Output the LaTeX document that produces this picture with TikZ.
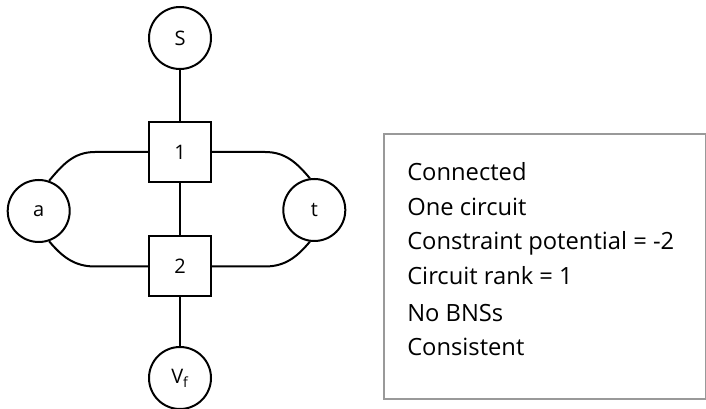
\documentclass[tikz,border=0pt]{standalone}
\usepackage{fontspec}
\setmainfont{Open Sans}
\begin{document}
\begin{tikzpicture}[x=0.75pt,y=-0.75pt,
  every node/.style={font=\fontsize{15}{18}\selectfont},
  vtx/.style={circle,draw,line width=1.5pt,minimum size=46.5pt,inner sep=0pt},
  fac/.style={rectangle,draw,line width=1.5pt,minimum width=46.5pt,minimum height=45pt,inner sep=0pt},
  edge/.style={line width=1.5pt},
  info/.style={anchor=base west,inner sep=0pt,font=\fontsize{17.8}{21}\selectfont}]
\useasboundingbox (0,0) rectangle (706,409);
\node[vtx] (s) at (180,38) {S};
\node[fac] (b1) at (180,152) {1};
\node[fac] (b2) at (180,266.5) {2};
\node[vtx] (a) at (38.7,211) {a};
\node[vtx] (t) at (314.3,210) {t};
\node[vtx] (vf) at (180,378) {V\textsubscript{f}};
\draw[edge] (s) -- (b1);
\draw[edge] (b1) -- (b2);
\draw[edge] (b2) -- (vf);
\draw[edge] (b1.west) -- ++(-53,0) to[out=180,in=50] (a.71);
\draw[edge] (b2.west) -- ++(-53,0) to[out=180,in=-50] (a.-71);
\draw[edge] (b1.east) -- ++(53,0) to[out=0,in=130] (t.98);
\draw[edge] (b2.east) -- ++(53,0) to[out=0,in=-130] (t.-98);
\node[draw=black!40,line width=1.2pt,minimum width=241.5pt,minimum height=198.75pt,anchor=north west,inner sep=0pt] (box) at (383.3,133) {};
\node[info] (l1) at (407,181) {Connected};
\node[info] (l2) at (407,215.5) {One circuit};
\node[info] (l3) at (407,250) {Constraint potential = -2};
\node[info] (l4) at (407,285) {Circuit rank = 1};
\node[info] (l5) at (407,321) {No BNSs};
\node[info] (l6) at (407,355.5) {Consistent};
\end{tikzpicture}
\end{document}
